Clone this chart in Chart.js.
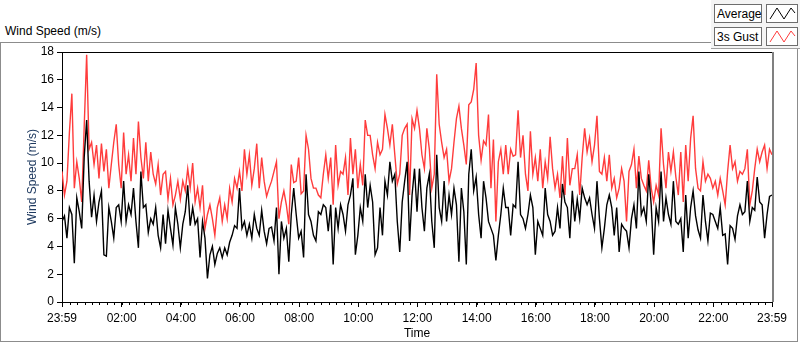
<!DOCTYPE html>
<html>
<head>
<meta charset="utf-8">
<script src="https://cdn.jsdelivr.net/npm/chart.js@4"></script>
<style>
  html, body { margin: 0; padding: 0; background: #fff; }
  #wrap { position: relative; width: 800px; height: 342px; overflow: hidden; font-family: "Liberation Sans", Arial, sans-serif; font-size: 12px; color: #000; }
  #frame { position: absolute; left: 0; top: 42px; width: 796px; height: 298px; border: 1px solid #8c8c8c; }
  #caption { position: absolute; left: 5px; top: 24px; }
  #legend { position: absolute; left: 711px; top: 0; width: 89px; height: 48px; background: #f4f4f4; border-bottom: 1px solid #a0a0a0; }
  .lbl { position: absolute; left: 3px; width: 48px; height: 19px; border: 1px solid #6d6d6d; background: #fff; line-height: 18px; padding-left: 2px; box-sizing: border-box; }
  .ico { position: absolute; left: 55px; width: 32px; height: 19px; border: 1px solid #6d6d6d; background: #fff; box-sizing: border-box; }
  canvas { position: absolute; left: 0; top: 0; }
</style>
</head>
<body>
<div id="wrap">
  <div id="frame"></div>
  <div id="caption">Wind Speed (m/s)</div>
  <canvas id="windChart" width="800" height="342"></canvas>
  <div id="legend">
    <div class="lbl" style="top:4px">Average</div>
    <div class="ico" style="top:4px"><svg width="30" height="17"><polyline points="3,14 10,3 17,14 24,3 28,8" fill="none" stroke="#000" stroke-width="1"/></svg></div>
    <div class="lbl" style="top:27px">3s Gust</div>
    <div class="ico" style="top:27px"><svg width="30" height="17"><polyline points="3,14 10,3 17,14 24,3 28,8" fill="none" stroke="#ff3c3c" stroke-width="1"/></svg></div>
  </div>
</div>
<script>
// 5-minute samples starting at 23:59 (minute 0) through 23:59 next day (minute 1440)
const sampleStep = 5;

const gust = [
  9.4, 7.7, 8.7, 12.2, 15.0, 8.2, 10.1, 8.9, 7.2, 12.6, 17.8, 11.0, 11.5, 9.9, 11.3, 8.9, 11.4, 9.4, 11.0, 8.2, 9.9,
  11.5, 12.8, 9.9, 8.2, 12.2, 9.2, 10.6, 8.7, 11.8, 9.2, 13.0, 10.4, 8.9, 11.5, 8.7, 10.8, 9.2, 8.5, 9.9, 7.7, 9.2,
  9.4, 7.4, 8.9, 7.0, 7.7, 8.7, 7.4, 8.7, 8.0, 9.6, 8.2, 10.0, 7.2, 8.2, 6.8, 8.4, 5.3, 6.3, 7.0, 6.0,
  4.8, 6.8, 7.5, 5.8, 7.0, 6.0, 8.2, 7.2, 8.9, 8.2, 9.4, 8.0, 11.0, 9.2, 10.6, 8.4, 9.6, 11.4, 8.2, 10.4, 8.7,
  7.6, 8.2, 8.7, 9.4, 10.1, 6.0, 7.2, 8.0, 7.0, 5.6, 9.9, 8.6, 8.7, 10.4, 7.8, 8.0, 12.0, 11.0, 8.9, 8.2,
  8.2, 7.7, 7.5, 9.2, 10.6, 8.9, 10.4, 7.0, 11.3, 8.4, 9.4, 9.2, 10.4, 7.7, 11.8, 9.2, 11.0, 8.2, 9.9, 8.4, 13.1, 12.0,
  12.0, 10.6, 9.6, 11.5, 10.6, 11.0, 13.5, 12.5, 11.3, 12.8, 10.6, 8.5, 9.2, 12.0, 12.5, 12.8, 7.7, 13.2, 12.5, 13.8,
  12.5, 10.6, 9.6, 12.5, 11.0, 8.2, 9.2, 16.4, 12.8, 11.5, 10.4, 11.0, 8.7, 9.6, 11.5, 13.2, 14.1, 12.5, 11.3, 9.9, 14.2,
  14.4, 15.3, 17.2, 12.0, 10.2, 11.6, 11.3, 13.5, 8.2, 11.7, 5.8, 10.1, 11.0, 9.2, 11.3, 9.2, 11.0, 10.5, 10.6, 13.8,
  10.4, 12.0, 9.2, 8.0, 12.3, 9.2, 10.4, 8.7, 11.0, 8.2, 10.1, 8.9, 11.9, 9.6, 8.2, 9.2, 7.5, 10.5, 7.7, 11.8, 8.4, 9.6,
  9.6, 10.6, 7.7, 10.4, 12.5, 10.8, 11.8, 10.1, 11.3, 13.4, 9.4, 9.2, 10.4, 8.7, 10.6, 8.2, 8.9, 7.5, 8.2, 9.6,
  8.7, 5.8, 9.4, 9.9, 11.0, 8.2, 10.5, 8.9, 8.4, 8.0, 10.2, 8.2, 7.2, 8.4, 7.7, 12.5, 9.9, 8.2, 10.8, 9.4, 10.8,
  9.0, 7.7, 10.8, 7.2, 11.3, 8.7, 11.8, 13.4, 9.6, 8.2, 8.0, 10.1, 8.7, 9.2, 8.9, 8.2, 8.7, 7.7, 8.9, 8.0,
  7.0, 9.4, 11.3, 9.6, 10.1, 8.7, 9.4, 9.2, 9.6, 11.0, 7.0, 8.0, 9.6, 11.0, 10.1, 10.8, 11.3, 9.6, 11.0, 10.6
];

const average = [
  5.8, 6.2, 4.6, 6.8, 6.3, 2.8, 7.5, 6.5, 5.3, 10.4, 13.1, 8.7, 6.1, 7.7, 5.8, 7.2, 8.0, 3.4, 3.3, 6.8, 5.8,
  4.6, 6.8, 7.0, 5.8, 8.7, 5.8, 7.0, 6.3, 8.2, 5.8, 3.9, 9.4, 6.8, 7.0, 5.0, 6.0, 5.6, 6.8, 4.8, 3.9, 6.3,
  4.2, 6.6, 5.3, 4.1, 6.8, 5.6, 3.9, 5.6, 6.5, 8.4, 5.5, 6.8, 5.6, 6.0, 3.2, 5.8, 4.6, 1.7, 3.4, 4.0,
  2.7, 3.5, 3.9, 3.2, 3.9, 3.4, 4.3, 4.8, 5.5, 5.3, 8.2, 5.3, 5.8, 4.8, 5.6, 4.6, 6.3, 5.3, 4.8, 6.6, 5.1,
  4.2, 5.3, 5.4, 4.4, 6.8, 2.0, 5.8, 4.6, 5.3, 2.9, 6.3, 8.2, 6.3, 4.6, 5.1, 3.2, 9.2, 6.3, 5.8, 4.8,
  4.4, 6.5, 6.3, 7.0, 6.8, 5.1, 7.0, 2.7, 6.8, 5.3, 7.0, 6.3, 5.1, 7.0, 7.7, 8.9, 3.4, 4.8, 6.8, 5.8, 9.2, 6.8,
  8.4, 7.2, 3.4, 3.9, 6.8, 4.8, 8.7, 7.7, 10.1, 8.7, 9.2, 5.8, 3.6, 7.2, 8.7, 10.1, 4.4, 7.7, 9.6, 6.5,
  9.6, 6.8, 5.1, 8.2, 9.2, 5.8, 3.9, 10.6, 6.8, 5.8, 8.7, 5.8, 7.7, 6.3, 8.2, 7.0, 2.9, 8.2, 6.5, 2.7, 9.2,
  11.0, 8.0, 9.0, 6.3, 4.6, 8.7, 7.5, 5.8, 5.3, 4.8, 3.0, 4.8, 6.3, 8.2, 6.8, 6.8, 4.8, 7.0, 6.8, 10.1,
  6.3, 6.0, 5.3, 6.3, 7.7, 6.8, 3.4, 5.8, 5.3, 4.8, 8.2, 6.3, 5.8, 4.8, 5.1, 6.8, 5.3, 8.5, 7.2, 6.8, 4.6, 8.0,
  5.8, 7.4, 6.0, 8.2, 7.5, 7.0, 7.5, 6.3, 5.3, 8.7, 6.0, 3.9, 5.3, 7.0, 7.7, 6.8, 4.8, 6.8, 3.6, 5.6,
  5.3, 5.1, 3.9, 6.0, 7.0, 5.3, 9.4, 6.3, 6.8, 5.8, 9.2, 7.0, 3.4, 6.8, 5.8, 9.4, 5.8, 7.5, 6.3, 5.6, 8.7,
  5.8, 5.6, 6.0, 3.6, 7.7, 4.6, 6.8, 8.0, 6.2, 5.2, 4.6, 7.7, 5.8, 4.4, 6.4, 6.3, 5.8, 5.3, 6.8, 4.8,
  4.9, 2.7, 5.5, 5.3, 4.5, 6.2, 7.0, 6.3, 6.5, 8.7, 5.8, 6.8, 6.6, 9.0, 7.2, 7.0, 4.6, 6.3, 7.6, 7.7
];

// x-axis labels (minutes after 23:59)
const tickMinutes = [0, 121, 241, 361, 481, 601, 721, 841, 961, 1081, 1201, 1321, 1440];
const tickLabels = ['23:59', '02:00', '04:00', '06:00', '08:00', '10:00', '12:00', '14:00', '16:00', '18:00', '20:00', '22:00', '23:59'];
const minorStep = 15;

const sampleMinutes = average.map((v, i) => i * sampleStep);

// minor ticks + top/right border of the plot
const framePlugin = {
  id: 'frame',
  afterDraw(chart) {
    const { ctx, chartArea: a, scales: { x } } = chart;
    ctx.save();
    ctx.strokeStyle = '#000';
    ctx.lineWidth = 1;
    ctx.beginPath();
    for (let m = 1; m < 1440; m += minorStep) {
      const px = Math.round(x.getPixelForValue(m)) + 0.5;
      ctx.moveTo(px, a.bottom);
      ctx.lineTo(px, a.bottom + 3);
    }
    ctx.moveTo(a.left, a.top + 0.5);
    ctx.lineTo(a.right, a.top + 0.5);
    ctx.stroke();
    ctx.strokeStyle = '#808080';
    ctx.lineWidth = 2;
    ctx.beginPath();
    ctx.moveTo(a.right + 1, a.top);
    ctx.lineTo(a.right + 1, a.bottom);
    ctx.stroke();
    ctx.restore();
  }
};

const ctx = document.getElementById('windChart').getContext('2d');
const myChart = new Chart(ctx, {
  type: 'line',
  data: {
    labels: sampleMinutes,
    datasets: [
      { label: 'Average', data: average, borderColor: '#000000', borderWidth: 1.4 },
      { label: '3s Gust', data: gust, borderColor: '#ff3c3c', borderWidth: 1.4 }
    ]
  },
  options: {
    responsive: false,
    animation: false,
    layout: { padding: { left: 0, top: 52, right: 28, bottom: 0 } },
    elements: { point: { radius: 0 }, line: { tension: 0 } },
    plugins: { legend: { display: false }, tooltip: { enabled: false } },
    scales: {
      x: {
        type: 'linear',
        min: 0,
        max: 1440,
        afterFit: s => { s.height = 40; },
        afterBuildTicks: s => { s.ticks = tickMinutes.map(v => ({ value: v })); },
        ticks: {
          autoSkip: false, maxRotation: 0, padding: 4, color: '#000',
          font: { family: '"Liberation Sans", Arial', size: 12 },
          callback: (v, i) => tickLabels[i]
        },
        grid: { display: true, drawOnChartArea: false, tickLength: 5, color: '#000' },
        border: { display: true, color: '#000' },
        title: {
          display: true, text: 'Time', color: '#000', padding: { top: 0, bottom: 1 },
          font: { family: '"Liberation Sans", Arial', size: 12 }
        }
      },
      y: {
        min: 0,
        max: 18,
        afterFit: s => { s.width = 62; },
        ticks: {
          stepSize: 2, padding: 3, color: '#000',
          font: { family: '"Liberation Sans", Arial', size: 12 }
        },
        grid: { display: true, drawOnChartArea: false, tickLength: 5, color: '#000' },
        border: { display: true, color: '#000' },
        title: {
          display: true, text: 'Wind Speed (m/s)', color: '#1f3a60', padding: { top: 25, bottom: 0 },
          font: { family: '"Liberation Sans", Arial', size: 12 }
        }
      }
    }
  },
  plugins: [framePlugin]
});
</script>
</body>
</html>
